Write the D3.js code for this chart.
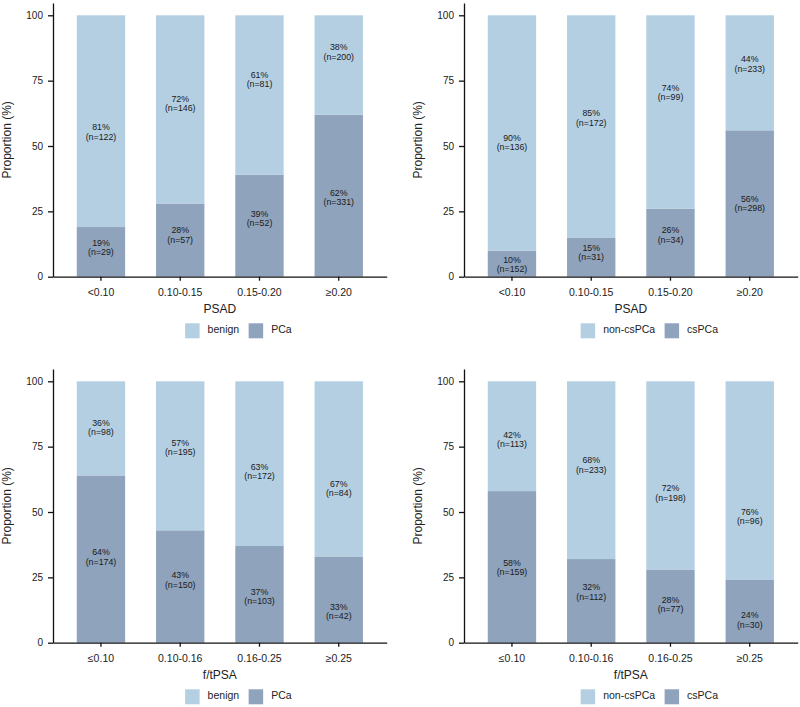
<!DOCTYPE html>
<html>
<head>
<meta charset="utf-8">
<script src="https://cdn.jsdelivr.net/npm/d3@7"></script>
<style>
  html, body { margin: 0; padding: 0; background: #fff; }
  svg { display: block; font-family: "Liberation Sans", Arial, Helvetica, sans-serif; }
  .axis path, .axis line { stroke: #111; stroke-width: 1.3; }
  .axis text { fill: #222; }
</style>
</head>
<body>
<div id="chart"></div>
<script>
// categories
const psadCats = ['<0.10', '0.10-0.15', '0.15-0.20', '≥0.20'];
const ftCats   = ['≤0.10', '0.10-0.16', '0.16-0.25', '≥0.25'];
const yTicks = [0, 25, 50, 75, 100];

// PSAD: benign vs PCa
const psadPcaPct    = [19, 28, 39, 62];
const psadPcaN      = [29, 57, 52, 331];
const psadBenignPct = [81, 72, 61, 38];
const psadBenignN   = [122, 146, 81, 200];

// PSAD: non-csPCa vs csPCa
const psadCsPct    = [10, 15, 26, 56];
const psadCsN      = [152, 31, 34, 298];
const psadNonCsPct = [90, 85, 74, 44];
const psadNonCsN   = [136, 172, 99, 233];

// f/tPSA: benign vs PCa
const ftPcaPct    = [64, 43, 37, 33];
const ftPcaN      = [174, 150, 103, 42];
const ftBenignPct = [36, 57, 63, 67];
const ftBenignN   = [98, 195, 172, 84];

// f/tPSA: non-csPCa vs csPCa
const ftCsPct    = [58, 32, 28, 24];
const ftCsN      = [159, 112, 77, 30];
const ftNonCsPct = [42, 68, 72, 76];
const ftNonCsN   = [113, 233, 198, 96];

// where the labels sit on the % scale
const p1LightAt = [55.4, 66.2, 75.5, 86.0], p1DarkAt = [11.2, 16.0, 22.2, 30.4];
const p2LightAt = [51.5, 60.8, 70.6, 81.4], p2DarkAt = [4.8, 9.3, 16.0, 28.1];
const p3LightAt = [82.4, 74.8, 65.6, 59.0], p3DarkAt = [32.9, 24.1, 17.7, 12.1];
const p4LightAt = [77.7, 68.0, 57.3, 48.4], p4DarkAt = [28.7, 19.4, 14.8, 8.8];

const LIGHT = '#b4cfe2', DARK = '#8fa3bc';

const panels = [
  { ox: 0,   oy: 0,   cats: psadCats, title: 'PSAD',    keys: ['benign', 'PCa'],
    dark: psadPcaPct, darkN: psadPcaN, light: psadBenignPct, lightN: psadBenignN, darkAt: p1DarkAt, lightAt: p1LightAt },
  { ox: 411, oy: 0,   cats: psadCats, title: 'PSAD',    keys: ['non-csPCa', 'csPCa'],
    dark: psadCsPct, darkN: psadCsN, light: psadNonCsPct, lightN: psadNonCsN, darkAt: p2DarkAt, lightAt: p2LightAt },
  { ox: 0,   oy: 366, cats: ftCats,   title: 'f/tPSA',  keys: ['benign', 'PCa'],
    dark: ftPcaPct, darkN: ftPcaN, light: ftBenignPct, lightN: ftBenignN, darkAt: p3DarkAt, lightAt: p3LightAt },
  { ox: 411, oy: 366, cats: ftCats,   title: 'f/tPSA',  keys: ['non-csPCa', 'csPCa'],
    dark: ftCsPct, darkN: ftCsN, light: ftNonCsPct, lightN: ftNonCsN, darkAt: p4DarkAt, lightAt: p4LightAt }
];

const width = 800, height = 707;
const svg = d3.select('#chart').append('svg').attr('width', width).attr('height', height);

// shared geometry of one panel
const left = 53, right = 386.7, bottom = 276.7, top100 = 15.3, yMax = 104.7;

panels.forEach(p => {
  const g = svg.append('g').attr('transform', `translate(${p.ox},${p.oy})`);

  const x = d3.scaleBand().domain(p.cats).range([left, right]).paddingInner(0.39).paddingOuter(0.3);
  const y = d3.scaleLinear().domain([0, 100]).range([bottom, top100]);

  const rows = p.cats.map((c, i) => ({ cat: c, dark: p.dark[i], light: p.light[i] }));
  const series = d3.stack().keys(['dark', 'light'])(rows);

  g.selectAll('g.layer')
    .data(series)
    .join('g')
    .attr('class', 'layer')
    .attr('fill', d => d.key === 'dark' ? DARK : LIGHT)
    .selectAll('rect')
    .data(d => d)
    .join('rect')
    .attr('x', d => x(d.data.cat))
    .attr('width', x.bandwidth())
    .attr('y', d => y(d[1]))
    .attr('height', d => y(d[0]) - y(d[1]));

  // bar labels, two lines each
  const labels = [];
  p.cats.forEach((c, i) => {
    labels.push({ cat: c, at: p.lightAt[i], pct: p.light[i], n: p.lightN[i] });
    labels.push({ cat: c, at: p.darkAt[i], pct: p.dark[i], n: p.darkN[i] });
  });
  const lab = g.selectAll('text.lab')
    .data(labels)
    .join('text')
    .attr('class', 'lab')
    .attr('text-anchor', 'middle')
    .attr('font-size', 8.8)
    .attr('fill', '#1a1a1a')
    .attr('transform', d => `translate(${x(d.cat) + x.bandwidth() / 2},${y(d.at)})`);
  lab.append('tspan').attr('x', 0).attr('y', -1.5).text(d => `${d.pct}%`);
  lab.append('tspan').attr('x', 0).attr('y', 7.8).text(d => `(n=${d.n})`);

  // axes
  const yAxisScale = d3.scaleLinear().domain([0, yMax]).range([bottom, bottom - yMax * (bottom - top100) / 100]);
  g.append('g')
    .attr('class', 'axis')
    .attr('transform', `translate(${left},0)`)
    .call(d3.axisLeft(yAxisScale).tickValues(yTicks).tickSize(5).tickPadding(5).tickSizeOuter(0))
    .call(a => a.selectAll('text').attr('font-size', 10));

  g.append('g')
    .attr('class', 'axis')
    .attr('transform', `translate(0,${bottom})`)
    .call(d3.axisBottom(x).tickSize(4).tickPadding(8.3).tickSizeOuter(0))
    .call(a => a.selectAll('text').attr('font-size', 10.5));

  // axis titles
  g.append('text')
    .attr('transform', `translate(11,${(bottom + yAxisScale(yMax)) / 2}) rotate(-90)`)
    .attr('text-anchor', 'middle')
    .attr('font-size', 12)
    .attr('fill', '#222')
    .text('Proportion (%)');

  g.append('text')
    .attr('x', (left + right) / 2)
    .attr('y', 312.6)
    .attr('text-anchor', 'middle')
    .attr('font-size', 12)
    .attr('fill', '#222')
    .text(p.title);

  // legend
  const leg = g.append('g');
  let cx = 0;
  p.keys.forEach((k, i) => {
    const item = leg.append('g').attr('transform', `translate(${cx},0)`);
    item.append('rect').attr('width', 14.5).attr('height', 15).attr('fill', i === 0 ? LIGHT : DARK);
    const t = item.append('text').attr('x', 22.5).attr('y', 9.5).attr('font-size', 10.5).attr('fill', '#222').text(k);
    cx += 22.5 + t.node().getComputedTextLength() + 9.5;
  });
  const legW = cx - 9.5;
  leg.attr('transform', `translate(${(left + right) / 2 + 18.5 - legW / 2},323.3)`);
});
</script>
</body>
</html>
